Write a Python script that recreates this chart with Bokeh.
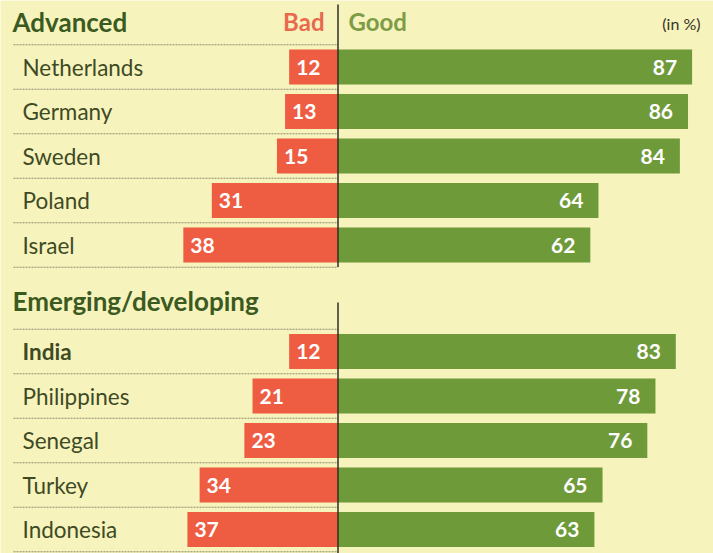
from bokeh.plotting import figure
from bokeh.models import Range1d, ColumnDataSource
from bokeh.core.properties import value
from bokeh.embed import file_html
from bokeh.resources import INLINE

# ---- data ----
adv_countries = ["Netherlands", "Germany", "Sweden", "Poland", "Israel"]
adv_bad = [12, 13, 15, 31, 38]
adv_good = [87, 86, 84, 64, 62]
emg_countries = ["India", "Philippines", "Senegal", "Turkey", "Indonesia"]
emg_bad = [12, 21, 23, 34, 37]
emg_good = [83, 78, 76, 65, 63]
group_titles = ["Advanced", "Emerging/developing"]
bad_label = "Bad"
good_label = "Good"
unit_label = "(in %)"

# ---- layout / style ----
BG = "#f7f3bd"
RED = "#ee5c42"
GREEN = "#6f9a3a"
TXT = "#3e4a24"
HEAD = "#3b5a1f"
FONT = "Lato"
PX = 4.07          # pixels per percentage point
X0 = 337.5         # page x of the zero line
W, H = 713, 553
STEP = 44.5
BAR_H = 35

def px2x(px):
    return (px - X0) / PX

p = figure(width=W, height=H, output_backend="svg", toolbar_location=None,
           x_range=Range1d(px2x(0), px2x(W)), y_range=Range1d(H, 0),
           x_axis_location=None, y_axis_location=None, min_border=0)
p.grid.visible = False
p.outline_line_color = None
p.background_fill_color = BG
p.border_fill_color = BG

groups = [
    (adv_countries, adv_bad, adv_good, 66.5, 21, 4, 266.5),
    (emg_countries, emg_bad, emg_good, 351.0, 300, 302, 553),
]

for gi, (names, bad, good, y0, title_y, vtop, vbot) in enumerate(groups):
    ys = [y0 + STEP * i for i in range(len(names))]
    styles = ["bold" if (gi == 1 and i == 0) else "normal" for i in range(len(names))]
    src = ColumnDataSource(dict(
        y=ys, name=names, bad=bad, good=good,
        negbad=[-b for b in bad],
        bad_lbl=[str(b) for b in bad], good_lbl=[str(g) for g in good],
        bad_x=[-b + 7 / PX for b in bad], good_x=[g - 15 / PX for g in good],
        style=styles,
    ))
    # separators
    seps = [y - STEP / 2 for y in ys] + [ys[-1] + STEP / 2]
    p.segment(x0=[px2x(13)] * len(seps), x1=[0] * len(seps), y0=seps, y1=seps,
              line_color="#8c8c72", line_width=1, line_dash="2 1")
    # bars
    p.hbar(y="y", left="negbad", right=0, height=BAR_H, source=src,
           fill_color=RED, line_color=None)
    p.hbar(y="y", left=0, right="good", height=BAR_H, source=src,
           fill_color=GREEN, line_color=None)
    # zero line
    p.segment(x0=[0], x1=[0], y0=[vtop], y1=[vbot], line_color="#2f2f22", line_width=1.5)
    # country names
    p.text(x=px2x(22), y="y", text="name", source=src, text_font=value(FONT),
           text_font_size="22.5px", text_color=TXT, text_baseline="middle",
           text_font_style="style")
    # values
    p.text(x="bad_x", y="y", text="bad_lbl", source=src, text_font=value(FONT),
           text_font_size="21px", text_color="white", text_font_style="bold",
           text_baseline="middle", text_align="left")
    p.text(x="good_x", y="y", text="good_lbl", source=src, text_font=value(FONT),
           text_font_size="21px", text_color="white", text_font_style="bold",
           text_baseline="middle", text_align="right")
    # group title
    p.text(x=[px2x(12)], y=[title_y], text=[group_titles[gi]], text_font=value(FONT),
           text_font_size="26px", text_color=HEAD, text_font_style="bold",
           text_baseline="middle")

p.text(x=[px2x(324)], y=[21], text=[bad_label], text_font=value(FONT),
       text_font_size="24px", text_color="#e9694f", text_font_style="bold",
       text_baseline="middle", text_align="right")
p.text(x=[px2x(348)], y=[21], text=[good_label], text_font=value(FONT),
       text_font_size="24px", text_color="#7d9c45", text_font_style="bold",
       text_baseline="middle", text_align="left")
p.text(x=[px2x(700)], y=[23], text=[unit_label], text_font=value(FONT),
       text_font_size="16px", text_color="#333326",
       text_baseline="middle", text_align="right")

html = file_html(p, INLINE)
html = html.replace("<body>", '<body style="background-color:%s;">' % BG, 1)
open("out.html", "w").write(html)
